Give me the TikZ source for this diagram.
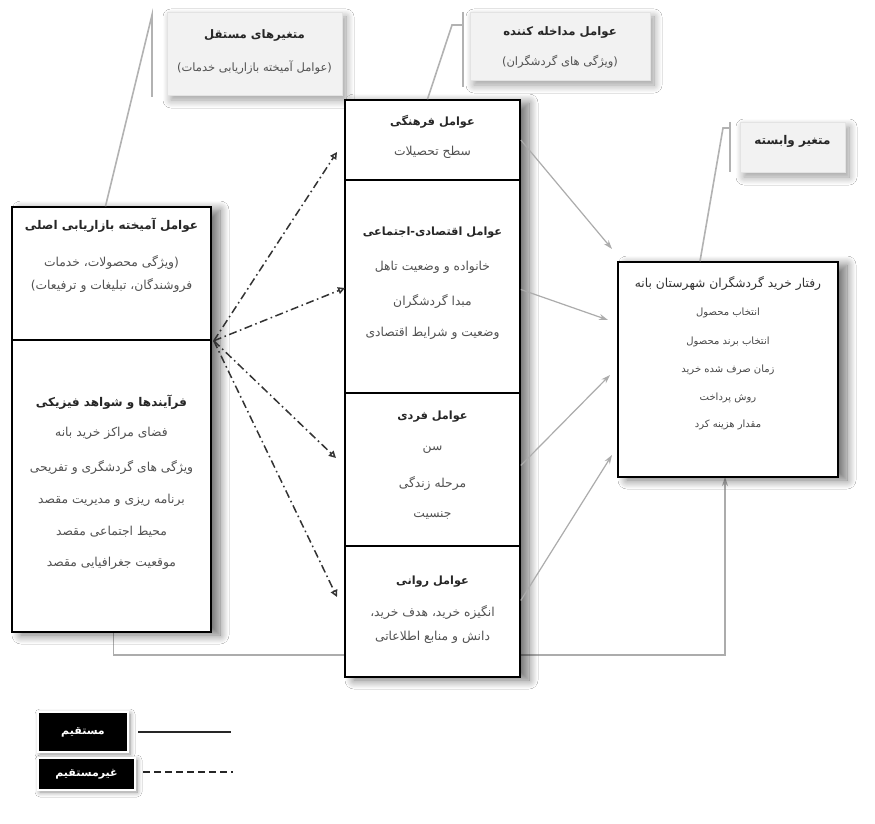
\documentclass[tikz,border=0pt]{standalone}
\usepackage{fontspec}
\newfontfamily\fafont[Script=Arabic]{DejaVu Sans}
\TeXXeTstate=1
\usetikzlibrary{arrows.meta,shadows.blur,calc}
\newcommand{\fa}[1]{{\fafont\beginR #1\endR}}
\begin{document}
\begin{tikzpicture}[x=1pt,y=-1pt,
  box/.style={draw=black, line width=1.6pt, fill=white, inner sep=0pt},
  bshad/.style={blur shadow={shadow xshift=9pt, shadow yshift=-3pt, shadow blur steps=14, shadow opacity=55, shadow blur radius=9pt}},
  lab/.style={fill=gray!10, draw=gray!22, line width=0.5pt, inner sep=0pt,
    blur shadow={shadow xshift=4pt, shadow yshift=-5pt, shadow blur steps=12, shadow opacity=40, shadow blur radius=8pt}},
  ttl/.style={font=\fontsize{11.3}{13}\selectfont\bfseries, text=black!85, inner sep=1pt},
  txt/.style={font=\fontsize{12.3}{14}\selectfont, text=black!68, inner sep=1pt},
  stxt/.style={font=\fontsize{10}{12}\selectfont, text=black!72, inner sep=1pt},
  ddarrow/.style={line width=1.5pt, black!80, dash pattern=on 8pt off 3.5pt on 1.6pt off 3.5pt, -{Triangle[open,length=7pt,width=7pt]}},
  garrow/.style={line width=1.2pt, gray!65, -{Stealth[length=9pt,width=6pt]}},
  labline/.style={gray!60, line width=1.6pt},
  legbox/.style={fill=black, draw=white, line width=2pt, inner sep=0pt, text=white,
    font=\fontsize{11}{13}\selectfont\bfseries,
    blur shadow={shadow xshift=2pt, shadow yshift=-2pt, shadow blur steps=8, shadow opacity=45, shadow blur radius=5pt}}
]
\useasboundingbox (0,0) rectangle (875,824);
\fill[white] (0,0) rectangle (875,824);

% ---- feedback line (drawn first so that the middle stack hides it)
\coordinate (lbs) at (113.5,632);
\coordinate (rbs) at (725,477);
\draw[garrow] (lbs) -- ++(0,23) -| (rbs);

% ---- label boxes
\node[lab, minimum width=175pt, minimum height=83pt] (L1) at (254.5,53.5) {};
\node[ttl, font=\fontsize{11.7}{13}\selectfont\bfseries] (L1a) at (254.5,35) {\fa{متغیرهای مستقل}};
\node[txt, font=\fontsize{11.5}{13}\selectfont] (L1b) at (254.5,68) {\fa{(عوامل آمیخته بازاریابی خدمات)}};

\node[lab, minimum width=180pt, minimum height=68pt] (L2) at (560,46) {};
\node[ttl, font=\fontsize{11.7}{13}\selectfont\bfseries] (L2a) at (560,32) {\fa{عوامل مداخله کننده}};
\node[txt, font=\fontsize{11.5}{13}\selectfont] (L2b) at (560,62) {\fa{(ویژگی های گردشگران)}};

\node[lab, minimum width=105pt, minimum height=50pt] (L3) at (792.5,147) {};
\node[ttl, font=\fontsize{12}{13}\selectfont\bfseries] (L3a) at (792.5,141) {\fa{متغیر وابسته}};

% ---- left box
\node[box, bshad, minimum width=199pt, minimum height=425pt] (lshadow) at (111.5,419.5) {};
\node[box, minimum width=199pt, minimum height=133pt] (lt) at (111.5,273.5) {};
\node[box, minimum width=199pt, minimum height=292pt] (lb) at (111.5,486) {};
\node[ttl, font=\fontsize{12}{13}\selectfont\bfseries] (lt1) at (111.5,225) {\fa{عوامل آمیخته بازاریابی اصلی}};
\node[txt] (lt2) at (111.5,262) {\fa{(ویژگی محصولات، خدمات}};
\node[txt] (lt3) at (111.5,285) {\fa{فروشندگان، تبلیغات و ترفیعات)}};
\node[ttl, font=\fontsize{12}{13}\selectfont\bfseries] (lb1) at (111.5,402) {\fa{فرآیندها و شواهد فیزیکی}};
\node[txt] (lb2) at (111.5,433) {\fa{فضای مراکز خرید بانه}};
\node[txt] (lb3) at (111.5,467) {\fa{ویژگی های گردشگری و تفریحی}};
\node[txt] (lb4) at (111.5,500) {\fa{برنامه ریزی و مدیریت مقصد}};
\node[txt] (lb5) at (111.5,532) {\fa{محیط اجتماعی مقصد}};
\node[txt] (lb6) at (111.5,563) {\fa{موقعیت جغرافیایی مقصد}};

% ---- middle stack
\node[box, bshad, minimum width=175pt, minimum height=577pt] (mshadow) at (432.5,388.5) {};
\node[box, minimum width=175pt, minimum height=80pt] (m1) at (432.5,140) {};
\node[box, minimum width=175pt, minimum height=213pt] (m2) at (432.5,286.5) {};
\node[box, minimum width=175pt, minimum height=153pt] (m3) at (432.5,469.5) {};
\node[box, minimum width=175pt, minimum height=131pt] (m4) at (432.5,611.5) {};
\node[ttl] (m1a) at (432.5,122) {\fa{عوامل فرهنگی}};
\node[txt] (m1b) at (432.5,152) {\fa{سطح تحصیلات}};
\node[ttl] (m2a) at (432.5,233) {\fa{عوامل اقتصادی-اجتماعی}};
\node[txt] (m2b) at (432.5,267) {\fa{خانواده و وضعیت تاهل}};
\node[txt] (m2c) at (432.5,301) {\fa{مبدا گردشگران}};
\node[txt] (m2d) at (432.5,333) {\fa{وضعیت و شرایط اقتصادی}};
\node[ttl] (m3a) at (432.5,417) {\fa{عوامل فردی}};
\node[txt] (m3b) at (432.5,450) {\fa{سن}};
\node[txt] (m3c) at (432.5,483) {\fa{مرحله زندگی}};
\node[txt] (m3d) at (432.5,515) {\fa{جنسیت}};
\node[ttl] (m4a) at (432.5,582) {\fa{عوامل روانی}};
\node[txt] (m4b) at (432.5,612) {\fa{انگیزه خرید، هدف خرید،}};
\node[txt] (m4c) at (432.5,637) {\fa{دانش و منابع اطلاعاتی}};

% ---- right box
\node[box, bshad, minimum width=220pt, minimum height=215pt] (r) at (728,369.5) {};
\node[txt, font=\fontsize{12.3}{14}\selectfont, text=black!80] (r1) at (728,283) {\fa{رفتار خرید گردشگران شهرستان بانه}};
\node[stxt] (r2) at (728,313) {\fa{انتخاب محصول}};
\node[stxt] (r3) at (728,342) {\fa{انتخاب برند محصول}};
\node[stxt] (r4) at (728,370) {\fa{زمان صرف شده خرید}};
\node[stxt] (r5) at (728,398) {\fa{روش پرداخت}};
\node[stxt] (r6) at (728,425) {\fa{مقدار هزینه کرد}};

% ---- label connectors
\coordinate (k1) at (152,15);
\coordinate (k1b) at (152,97);
\draw[labline] ($(lt.north)+(-6,0)$) -- (k1) -- (k1b);
\coordinate (k2) at (452,25);
\coordinate (k2t) at (463,12);
\coordinate (k2b) at (463,87);
\draw[labline] ($(m1.north)+(-5,0)$) -- (k2) -- (k2 -| k2t);
\draw[labline] (k2t) -- (k2b);
\coordinate (k3) at (723,128);
\coordinate (k3t) at (730,122);
\coordinate (k3b) at (730,172);
\draw[labline] ($(r.north)+(-28,0)$) -- (k3) -- (k3 -| k3t);
\draw[labline] (k3t) -- (k3b);

% ---- dash-dot arrows
\coordinate (src) at ($(lt.south east)+(2,0)$);
\coordinate (e1) at (337,152);
\coordinate (e2) at (345,288);
\coordinate (e3) at (336,458);
\coordinate (e4) at (337,597);
\draw[ddarrow] (src) -- (e1);
\draw[ddarrow] (src) -- (e2);
\draw[ddarrow] (src) -- (e3);
\draw[ddarrow] (src) -- (e4);

% ---- gray arrows
\coordinate (g1) at (612,249);
\coordinate (g2) at (608,320);
\coordinate (g3) at (610,375);
\coordinate (g4) at (612,455);
\draw[garrow] (m1.east) -- (g1);
\draw[garrow] ($(m2.east)+(0,3)$) -- (g2);
\draw[garrow] ($(m3.east)+(0,-4)$) -- (g3);
\draw[garrow] ($(m4.east)+(0,-11)$) -- (g4);

% ---- legend
\node[legbox, minimum width=90pt, minimum height=40pt] (lg1) at (83,732) {\fa{مستقیم}};
\coordinate (lg1e) at (231,732);
\draw[line width=2pt, black!85] ($(lg1.east)+(9,0)$) -- (lg1e);
\node[legbox, minimum width=97pt, minimum height=32pt] (lg2) at (86.5,774) {\fa{غیرمستقیم}};
\coordinate (lg2e) at (233,772);
\draw[line width=2.6pt, black!85, dash pattern=on 7pt off 4pt] ($(lg2.east)+(7,-2)$) -- (lg2e);
\end{tikzpicture}
\end{document}
